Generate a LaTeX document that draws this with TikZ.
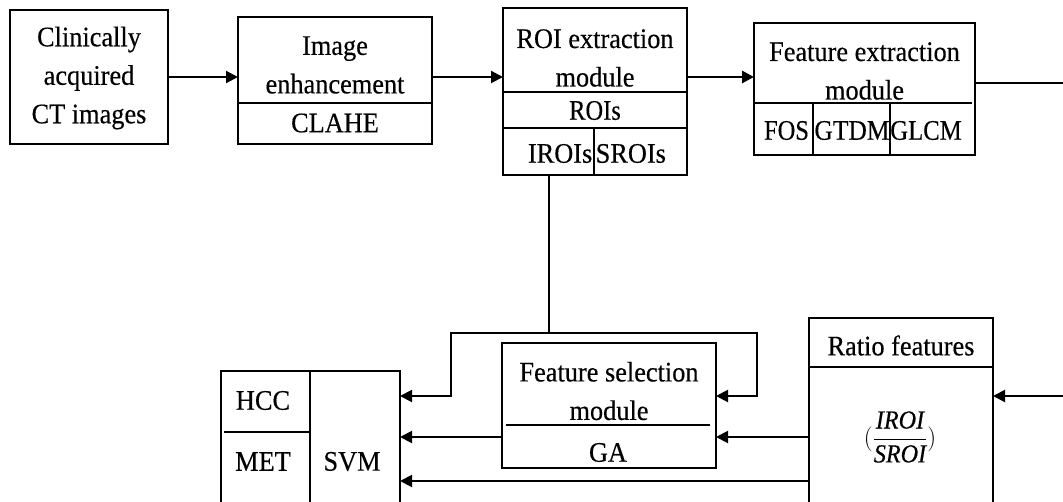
\documentclass[tikz,border=0pt]{standalone}
\usepackage{fontspec}
\setmainfont[FakeStretch=0.93,FakeBold=0.35]{Liberation Serif}
\usetikzlibrary{arrows.meta}

% horizontally condensed text
\newcommand{\narrow}[2]{\scalebox{#1}[1]{#2}}

\begin{document}
\begin{tikzpicture}[x=1pt,y=-1pt,
  box/.style={draw,line width=2pt,inner sep=0pt,outer sep=0pt},
  txt/.style={inner sep=0pt,align=center,font={\fontsize{28.3}{38.5}\selectfont}},
  rule/.style={line width=2pt},
  link/.style={line width=2pt},
  arr/.style={line width=2pt,-{Triangle[length=12pt,width=12pt]}}]

\useasboundingbox (0,0) rectangle (1063,501);
\clip (0,0) rectangle (1063,501);

% horizontal levels used by the connectors
\coordinate (y83) at (0,83);
\coordinate (y396) at (0,396);
\coordinate (y437) at (0,437);
\coordinate (y481) at (0,481);

% ---- top row ----
\node[box,minimum width=158pt,minimum height=134pt] (ct) at (89,77) {};
\node[txt] (ctT) at (89,78) {Clinically\\acquired\\CT images};

\node[box,minimum width=194pt,minimum height=127pt] (enh) at (335,80.5) {};
\node[txt] (enhT) at (335,65) {Image\\enhancement};
\node[txt] (clahe) at (335,123) {CLAHE};
\draw[rule] (238,103) -- (432,103);

\node[box,minimum width=184pt,minimum height=167pt] (roi) at (595,91.5) {};
\node[txt] (roiT) at (595,58) {ROI extraction\\module};
\node[txt] (rois) at (595,110.5) {\narrow{0.93}{ROIs}};
\node[txt,anchor=east] (irois) at (592.5,153.5) {IROIs};
\node[txt,anchor=west] (srois) at (595.5,153.5) {SROIs};
\draw[rule] (503,92) -- (687,92);
\draw[rule] (503,128) -- (687,128);
\draw[rule] (594,128) -- (594,175);

\node[box,minimum width=221pt,minimum height=132pt] (fe) at (864.5,89) {};
\node[txt] (feT) at (864.5,71) {Feature extraction\\module};
\node[txt] (fos) at (786.5,130.5) {\narrow{0.93}{FOS}};
\node[txt] (gtdm) at (852,130.5) {\narrow{0.97}{GTDM}};
\node[txt] (glcm) at (926,130.5) {\narrow{0.94}{GLCM}};
\draw[rule] (754,103) -- (972,103);
\draw[rule] (813,103) -- (813,155);
\draw[rule] (890,103) -- (890,155);

% ---- bottom row ----
\node[box,minimum width=179pt,minimum height=159pt] (svm) at (310.5,450.5) {};
\node[txt] (hcc) at (263,400.5) {HCC};
\node[txt] (met) at (263,461.5) {MET};
\node[txt] (svmT) at (352,461.5) {SVM};
\draw[rule] (310,371) -- (310,530);
\draw[rule] (224,432) -- (310,432);

\node[box,minimum width=214pt,minimum height=125pt] (fs) at (609,405.5) {};
\node[txt] (fsT) at (609,391) {Feature selection\\module};
\node[txt] (ga) at (608,452.5) {GA};
\draw[rule] (506,425) -- (710,425);

\node[box,minimum width=184pt,minimum height=212pt] (ratio) at (901,424) {};
\node[txt] (ratioT) at (901,345.5) {Ratio features};
\node[txt,font={\fontsize{26}{30}\selectfont}] (frac) at (900,437)
  {$\displaystyle\Bigl(\frac{\textit{IROI}}{\textit{SROI}}\Bigr)$};
\draw[rule] (809,367) -- (993,367);

% ---- connectors ----
\draw[arr] (ct.east) -- (ct.east -| enh.west);
\draw[arr] (enh.east |- ct.east) -- (roi.west |- ct.east);
\draw[arr,line width=2.8pt] (roi.east |- ct.east) -- (fe.west |- ct.east);

\coordinate (loop) at (1100,83);
\draw[arr] (fe.east |- y83) -- (loop) |- (ratio.east |- y396);

\coordinate (split) at (549,333);
\coordinate (jl) at (451,333);
\coordinate (jr) at (757,333);
\draw[link] (roi.south -| split) -- (split);
\draw[arr] (split) -- (jl) |- (svm.east |- y396);
\draw[arr] (split) -- (jr) |- (fs.east |- y396);

\draw[arr] (ratio.west |- y437) -- (fs.east |- y437);
\draw[arr] (fs.west |- y437) -- (svm.east |- y437);
\draw[arr] (ratio.west |- y481) -- (svm.east |- y481);

\end{tikzpicture}
\end{document}
